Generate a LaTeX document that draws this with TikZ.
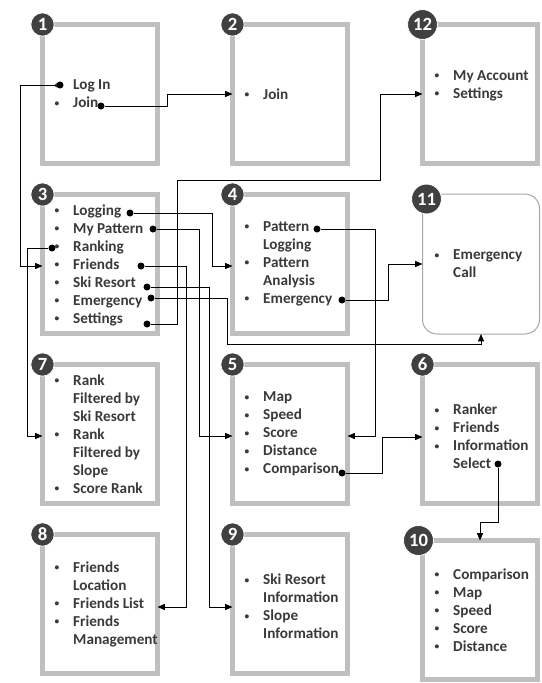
\documentclass[tikz,border=0pt]{standalone}
\usepackage{fontspec}
\usepackage{graphicx}
\setmainfont{Carlito}
\usetikzlibrary{arrows.meta,positioning}
\definecolor{frame}{HTML}{BFBFBF}
\definecolor{ink}{HTML}{3A3A3A}
\definecolor{badgefill}{HTML}{404040}
\definecolor{callframe}{HTML}{A6A6A6}
\newcommand\bul{\makebox[14.6pt][l]{\hspace{0.6pt}\raisebox{1.3pt}{\scalebox{0.62}{\textbullet}}}}
\newcommand\nobul{\hspace*{14.6pt}}
\tikzset{
  panel/.style={draw=frame, line width=3.75pt, fill=white, outer sep=0pt, minimum width=86.25pt, minimum height=104.25pt},
  callpanel/.style={draw=callframe, line width=0.75pt, rounded corners=11pt, fill=white, outer sep=0pt, minimum width=87.75pt, minimum height=105pt},
  badge/.style={circle, fill=badgefill, draw=white, line width=0.6pt, text=white, font=\bfseries\fontsize{14}{14}\selectfont, inner sep=2pt, minimum size=17.5pt},
  items/.style={align=left, inner sep=0pt, text=ink, font=\bfseries\fontsize{11.4}{13.5}\selectfont},
  dot/.style={circle, fill=black, inner sep=0pt, minimum size=5.25pt},
  link/.style={-{Triangle[length=5.5pt,width=4.5pt]}, line width=0.7pt, draw=black}
}

\begin{document}
\begin{tikzpicture}[x=0.75pt, y=0.75pt, node distance=23.25pt and 56.25pt]
\useasboundingbox (0,0) rectangle (542,-683);
\node[panel, anchor=north west] (p1) at (42.5,-24.5) {};
\node[panel, right=of p1] (p2) {};
\node[panel, right=of p2] (p12) {};
\node[panel, below=of p1] (p3) {};
\node[panel, right=of p3] (p4) {};
\node[callpanel, right=of p4] (p11) {};
\node[panel, below=of p3] (p7) {};
\node[panel, right=of p7] (p5) {};
\node[panel, right=of p5] (p6) {};
\node[panel, below=of p7] (p8) {};
\node[panel, right=of p8] (p9) {};
\node[panel, right=of p9, yshift=-4.5pt] (p10) {};

\node[items, right=8.25pt of p1.west] (t1) {\bul Log In\\ \bul Join};
\node[items, right=8.25pt of p2.west] (t2) {\bul Join};
\node[items, right=8.25pt of p12.west, yshift=6pt] (t12) {\bul My Account\\ \bul Settings};
\node[items, right=8.25pt of p3.west, yshift=-1pt] (t3) {\bul Logging\\ \bul My Pattern\\ \bul Ranking\\ \bul Friends\\ \bul Ski Resort\\ \bul Emergency\\ \bul Settings};
\node[items, right=8.25pt of p4.west] (t4) {\bul Pattern\\ \nobul Logging\\ \bul Pattern\\ \nobul Analysis\\ \bul Emergency};
\node[items, right=8.25pt of p11.west] (t11) {\bul Emergency\\ \nobul Call};
\node[items, right=8.25pt of p7.west] (t7) {\bul Rank\\ \nobul Filtered by\\ \nobul Ski Resort\\ \bul Rank\\ \nobul Filtered by\\ \nobul Slope\\ \bul Score Rank};
\node[items, right=8.25pt of p5.west] (t5) {\bul Map\\ \bul Speed\\ \bul Score\\ \bul Distance\\ \bul Comparison};
\node[items, right=8.25pt of p6.west, yshift=-2pt] (t6) {\bul Ranker\\ \bul Friends\\ \bul Information\\ \nobul Select};
\node[items, right=8.25pt of p8.west] (t8) {\bul Friends\\ \nobul Location\\ \bul Friends List\\ \bul Friends\\ \nobul Management};
\node[items, right=8.25pt of p9.west, yshift=-2pt] (t9) {\bul Ski Resort\\ \nobul Information\\ \bul Slope\\ \nobul Information};
\node[items, right=8.25pt of p10.west] (t10) {\bul Comparison\\ \bul Map\\ \bul Speed\\ \bul Score\\ \bul Distance};

\node[badge] (b1) at (p1.north west) {1};
\node[badge] (b2) at (p2.north west) {2};
\node[badge] (b12) at (p12.north west) {12};
\node[badge] (b3) at (p3.north west) {3};
\node[badge] (b4) at (p4.north west) {4};
\node[badge] (b11) at ([shift={(4,-5)}]p11.north west) {11};
\node[badge] (b7) at (p7.north west) {7};
\node[badge] (b5) at (p5.north west) {5};
\node[badge] (b6) at (p6.north west) {6};
\node[badge] (b8) at (p8.north west) {8};
\node[badge] (b9) at (p9.north west) {9};
\node[badge] (b10) at ([xshift=-3pt]p10.north west) {10};

\node[dot] (login) at ([shift={(17.5,-60.5)}]p1.north west) {};
\node[dot] (join) at ([shift={(58.5,-81.5)}]p1.north west) {};
\node[dot] (logging) at ([shift={(87.5,-18.5)}]p3.north west) {};
\node[dot] (mypattern) at ([shift={(110.5,-34.5)}]p3.north west) {};
\node[dot] (ranking) at ([shift={(9.5,-53.5)}]p3.north west) {};
\node[dot] (friends) at ([shift={(98.5,-71.5)}]p3.north west) {};
\node[dot] (skiresort) at ([shift={(104.5,-92.5)}]p3.north west) {};
\node[dot] (emergency) at ([shift={(108.5,-103.5)}]p3.north west) {};
\node[dot] (settings) at ([shift={(104.5,-129.5)}]p3.north west) {};
\node[dot] (patternlog) at ([shift={(84.5,-34.5)}]p4.north west) {};
\node[dot] (emergencycall) at ([shift={(109.5,-105.5)}]p4.north west) {};
\node[dot] (comparison) at ([shift={(109.5,-108.5)}]p5.north west) {};
\node[dot] (select) at ([shift={(75.5,-99.5)}]p6.north west) {};

\draw[link] (login) -- ++(-40,0) |- ([yshift=-1.5pt]p3.west);
\draw[link] (join) -- ++(66,0) |- (p2.west);
\draw[link] (logging) -- ++(82,0) |- ([yshift=-1.5pt]p4.west);
\draw[link] (mypattern) -- ++(46,0) |- ([yshift=-1.5pt]p5.west);
\draw[link] (ranking) -- ++(-25,0) |- ([yshift=-1.5pt]p7.west);
\draw[link] (friends) -- ++(45,0) |- ([yshift=-2.25pt]p8.east);
\draw[link] (skiresort) -- ++(62,0) |- ([yshift=-2.25pt]p9.west);
\draw[link] (emergency) -- ++(76,0) -- ++(0,-46) -| (p11.south);
% Settings leaves upwards and runs above panel 4 to reach panel 12.
\draw[link] (settings) -- ++(30,0) -- ++(0,144) -- ++(203,0) |- (p12.west);
\draw[link] (patternlog) -- ++(58,0) |- ([yshift=-1.5pt]p5.east);
\draw[link] (emergencycall) -- ++(46,0) |- (p11.west);
\draw[link] (comparison) -- ++(40,0) |- ([yshift=-2.25pt]p6.west);
\draw[link] (select) -- ++(0,-58) -| (p10.north);
\end{tikzpicture}
\end{document}
